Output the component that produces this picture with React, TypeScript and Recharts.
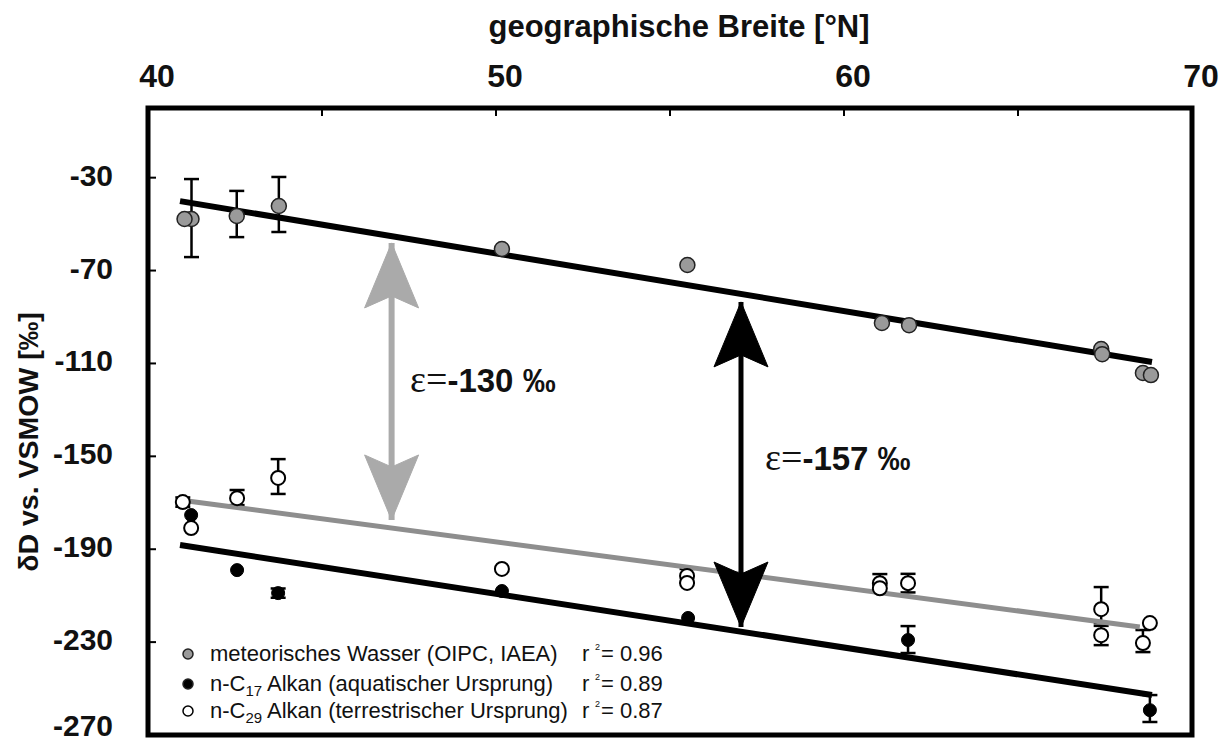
import React from 'react';
import { ComposedChart, Scatter, XAxis, YAxis, ErrorBar, ReferenceArea } from 'recharts';

// ---------- data ----------
const xTicks = [40, 45, 50, 55, 60, 65, 70];
const xLabeled = [40, 50, 60, 70];
const yTicks = [-30, -70, -110, -150, -190, -230, -270];

// meteoric water (OIPC, IAEA)
const metLat = [41.05, 41.25, 42.55, 43.76, 50.17, 55.5, 61.09, 61.87, 67.39, 67.42, 68.59, 68.82];
const metDD = [-47.8, -47.8, -46.5, -42.2, -60.7, -67.6, -92.6, -93.5, -103.8, -106.0, -114.1, -115.0];
const metErr: (number[] | null)[] = [null, [16.4, 17.2], [9.1, 10.8], [11.2, 12.5], null, null, null, null, null, null, null, null];

// n-C17 alkane (aquatic)
const c17Lat = [41.24, 42.56, 43.74, 50.17, 55.52, 61.84, 68.79];
const c17DD = [-175.3, -199.0, -208.9, -208.0, -219.6, -229.1, -259.3];
const c17Err: (number[] | null)[] = [null, null, [2, 2], null, null, [5.6, 6.0], [5.1, 6.5]];

// n-C29 alkane (terrestrial)
const c29Lat = [41.0, 41.24, 42.56, 43.74, 50.17, 55.49, 55.49, 61.03, 61.03, 61.84, 67.39, 67.39, 68.79, 68.59];
const c29DD = [-169.7, -180.9, -168.0, -159.3, -198.5, -201.5, -204.5, -204.6, -206.8, -204.6, -215.8, -227.0, -221.8, -230.4];
const c29Err: (number[] | null)[] = [[2, 2], null, [3, 3.5], [6.9, 8.1], null, [3, 3], null, [3.9, 3.9], null, [4, 4], [6, 9.5], [4.3, 4], null, [3.9, 5.6]];

// regression lines (end points)
const metFitLat = [40.92, 68.85];
const metFitDD = [-40.1, -109.4];
const c29FitLat = [40.92, 68.5];
const c29FitDD = [-168.8, -223.5];
const c17FitLat = [40.92, 68.85];
const c17FitDD = [-188.2, -252.8];

// fractionation arrows
const grayArrowLat = 47.0;
const grayArrowDD = [-58.1, -177.4];
const blackArrowLat = 57.04;
const blackArrowDD = [-83.5, -223.5];

// annotation labels
const epsLabels = [
  { x: 47.53, y: -122.3, value: '-130 ‰' },
  { x: 57.73, y: -155.9, value: '-157 ‰' },
];

const legendItems = [
  { kind: 'met', text: 'meteorisches Wasser (OIPC, IAEA)', sub: '', r2: '0.96' },
  { kind: 'c17', text: 'n-C', sub: '17', rest: ' Alkan (aquatischer Ursprung)', r2: '0.89' },
  { kind: 'c29', text: 'n-C', sub: '29', rest: ' Alkan (terrestrischer Ursprung)', r2: '0.87' },
];

// ---------- helpers ----------
const SANS = "'Liberation Sans', Arial, sans-serif";
const SERIF = "'Liberation Serif', 'Times New Roman', serif";

const build = (xs: number[], ys: number[], errs?: (number[] | null)[]) =>
  xs.map((x, i) => ({ x, y: ys[i], err: errs ? errs[i] : null }));

const withErr = (d: any[]) => d.filter((p) => p.err);
const noErr = (d: any[]) => d.filter((p) => !p.err);

const metData = build(metLat, metDD, metErr);
const c17Data = build(c17Lat, c17DD, c17Err);
const c29Data = build(c29Lat, c29DD, c29Err);
const metFit = build(metFitLat, metFitDD);
const c29Fit = build(c29FitLat, c29FitDD);
const c17Fit = build(c17FitLat, c17FitDD);
const grayArrow = [
  { x: grayArrowLat, y: grayArrowDD[0], dir: 'up' },
  { x: grayArrowLat, y: grayArrowDD[1], dir: 'down' },
];
const blackArrow = [
  { x: blackArrowLat, y: blackArrowDD[0], dir: 'up' },
  { x: blackArrowLat, y: blackArrowDD[1], dir: 'down' },
];

const MetDot = (p: any) => <circle cx={p.cx} cy={p.cy} r={7.5} fill="#9a9a9a" stroke="#222" strokeWidth={1.5} />;
const C17Dot = (p: any) => <circle cx={p.cx} cy={p.cy} r={6.5} fill="#000" stroke="#000" strokeWidth={1} />;
const C29Dot = (p: any) => <circle cx={p.cx} cy={p.cy} r={7} fill="#fff" stroke="#000" strokeWidth={2} />;
const NoDot = () => <g />;

const makeArrowHead = (color: string) => (p: any) => {
  const { cx, cy } = p;
  const s = p.payload && p.payload.dir === 'up' ? 1 : -1;
  const pts = [
    [cx, cy],
    [cx + 27, cy + s * 65],
    [cx, cy + s * 53],
    [cx - 27, cy + s * 65],
  ]
    .map((q) => q.join(','))
    .join(' ');
  return <polygon points={pts} fill={color} stroke={color} strokeWidth={1} />;
};

const EpsLabel = (p: any) => (
  <text x={p.cx} y={p.cy}>
    <tspan fontFamily={SERIF} fontSize={38} fill="#111">ε=</tspan>
    <tspan fontFamily={SANS} fontWeight="bold" fontSize={33} fill="#111">{p.payload.value}</tspan>
  </text>
);

const XTick = (p: any) => {
  const { x, y, payload } = p;
  const v = payload.value;
  return (
    <g>
      {v !== 40 && v !== 70 && <line x1={x} y1={y} x2={x} y2={y + 8} stroke="#000" strokeWidth={2} />}
      {xLabeled.includes(v) && (
        <text x={x + 9} y={y - 21} textAnchor="middle" fontFamily={SANS} fontWeight="bold" fontSize={32} fill="#111">
          {v}
        </text>
      )}
    </g>
  );
};

const YTick = (p: any) => {
  const { x, y, payload } = p;
  const v = payload.value;
  return (
    <g>
      {v !== -270 && <line x1={x} y1={y} x2={x + 8} y2={y} stroke="#000" strokeWidth={2} />}
      <text x={x - 35} y={Math.min(y + 8, 736)} textAnchor="end" fontFamily={SANS} fontWeight="bold" fontSize={30} fill="#111">
        {v}
      </text>
    </g>
  );
};

const LegendMarker = ({ kind }: { kind: string }) => {
  const fill = kind === 'met' ? '#9a9a9a' : kind === 'c17' ? '#000' : '#fff';
  const stroke = kind === 'c29' ? '#000' : '#222';
  return (
    <svg width={14} height={14} style={{ position: 'absolute', left: 181, top: -7 }}>
      <circle cx={7} cy={7} r={5} fill={fill} stroke={stroke} strokeWidth={1.5} />
    </svg>
  );
};

export default function App() {
  const rowY = [654, 684, 711];
  return (
    <div style={{ position: 'absolute', left: 0, top: 0, width: 1227, height: 744, background: '#fff', overflow: 'hidden' }}>
      <ComposedChart width={1227} height={744} margin={{ top: 78, right: 35, bottom: 9, left: 88 }}>
        <XAxis
          type="number"
          dataKey="x"
          orientation="top"
          domain={[40, 70]}
          ticks={xTicks}
          interval={0}
          allowDataOverflow
          axisLine={false}
          tickLine={false}
          tickSize={0}
          tickMargin={0}
          height={30}
          tick={(p: any) => <XTick {...p} />}
        />
        <YAxis
          type="number"
          dataKey="y"
          domain={[-270, 0]}
          ticks={yTicks}
          interval={0}
          allowDataOverflow
          axisLine={false}
          tickLine={false}
          tickSize={0}
          tickMargin={0}
          width={60}
          tick={(p: any) => <YTick {...p} />}
        />
        <ReferenceArea x1={40} x2={70} y1={-270} y2={0} fill="none" stroke="#000" strokeWidth={5} ifOverflow="visible" />

        {/* regression lines */}
        <Scatter data={metFit} line={{ stroke: '#000', strokeWidth: 6 }} shape={NoDot} isAnimationActive={false} />
        <Scatter data={c29Fit} line={{ stroke: '#8e8e8e', strokeWidth: 5 }} shape={NoDot} isAnimationActive={false} />
        <Scatter data={c17Fit} line={{ stroke: '#000', strokeWidth: 6 }} shape={NoDot} isAnimationActive={false} />

        {/* arrows */}
        <Scatter data={grayArrow} line={{ stroke: '#aaaaaa', strokeWidth: 6 }} shape={makeArrowHead('#aaaaaa')} isAnimationActive={false} />
        <Scatter data={blackArrow} line={{ stroke: '#000', strokeWidth: 5 }} shape={makeArrowHead('#000')} isAnimationActive={false} />

        {/* data points */}
        <Scatter data={withErr(metData)} shape={MetDot} isAnimationActive={false}>
          <ErrorBar dataKey="err" direction="y" width={7.5} stroke="#000" strokeWidth={2.5} />
        </Scatter>
        <Scatter data={noErr(metData)} shape={MetDot} isAnimationActive={false} />
        <Scatter data={withErr(c29Data)} shape={C29Dot} isAnimationActive={false}>
          <ErrorBar dataKey="err" direction="y" width={7.5} stroke="#000" strokeWidth={2.5} />
        </Scatter>
        <Scatter data={noErr(c29Data)} shape={C29Dot} isAnimationActive={false} />
        <Scatter data={withErr(c17Data)} shape={C17Dot} isAnimationActive={false}>
          <ErrorBar dataKey="err" direction="y" width={7.5} stroke="#000" strokeWidth={2.5} />
        </Scatter>
        <Scatter data={noErr(c17Data)} shape={C17Dot} isAnimationActive={false} />

        {/* epsilon labels */}
        <Scatter data={epsLabels} shape={EpsLabel} isAnimationActive={false} />
      </ComposedChart>

      {/* axis titles */}
      <div
        style={{
          position: 'absolute',
          left: 679,
          top: 10,
          transform: 'translateX(-50%)',
          whiteSpace: 'nowrap',
          fontFamily: SANS,
          fontWeight: 'bold',
          fontSize: 31,
          lineHeight: '34px',
          color: '#111',
        }}
      >
        geographische Breite [°N]
      </div>
      <div
        style={{
          position: 'absolute',
          left: 28,
          top: 442,
          transform: 'translate(-50%, -50%) rotate(-90deg)',
          whiteSpace: 'nowrap',
          fontFamily: SANS,
          fontWeight: 'bold',
          fontSize: 28.5,
          lineHeight: '34px',
          color: '#111',
        }}
      >
        δD vs. VSMOW [‰]
      </div>

      {/* legend */}
      {legendItems.map((it, i) => (
        <div key={i} style={{ position: 'absolute', left: 0, top: rowY[i], width: 0, height: 0 }}>
          <LegendMarker kind={it.kind} />
          <div
            style={{
              position: 'absolute',
              left: 210,
              top: -13,
              whiteSpace: 'nowrap',
              fontFamily: SANS,
              fontSize: 22,
              lineHeight: '26px',
              color: '#111',
            }}
          >
            {it.text}
            {it.sub && <span style={{ fontSize: 15, position: 'relative', top: 5 }}>{it.sub}</span>}
            {it.rest || ''}
          </div>
          <div style={{ position: 'absolute', left: 582, top: -13, whiteSpace: 'nowrap', fontFamily: SANS, fontSize: 22, lineHeight: '26px', color: '#111' }}>
            r
          </div>
          <div style={{ position: 'absolute', left: 595, top: -13, whiteSpace: 'nowrap', fontFamily: SANS, fontSize: 9, lineHeight: '12px', color: '#111' }}>
            2
          </div>
          <div style={{ position: 'absolute', left: 601, top: -13, whiteSpace: 'nowrap', fontFamily: SANS, fontSize: 22, lineHeight: '26px', color: '#111' }}>
            = {it.r2}
          </div>
        </div>
      ))}
    </div>
  );
}
